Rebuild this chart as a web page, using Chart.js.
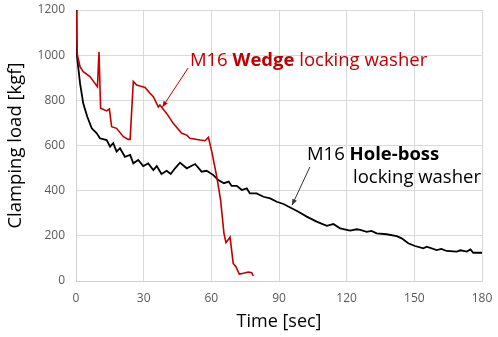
<!DOCTYPE html>
<html>
<head>
<meta charset="utf-8">
<script src="https://cdn.jsdelivr.net/npm/chart.js@4"></script>
<style>
  html, body { margin: 0; padding: 0; background: #fff; }
  #wrap { width: 498px; height: 337px; position: relative; }
</style>
</head>
<body>
<div id="wrap"><canvas id="c"></canvas></div>
<script>
// ── Data ──────────────────────────────────────────────────────────────────────

const wedgeTime = [0, 0.6, 1.8, 3.2, 6.2, 8.4, 9.5, 10.2, 10.9, 13.6, 14.8, 15.8, 18, 21, 23.2, 24,
  25.4, 26.9, 28.4, 30.6, 32.8, 34.3, 36.5, 37.2, 40.2, 43.1, 46.9, 49.1, 50.5, 55, 57.2, 58.7,
  60.2, 62.4, 64.1, 65.6, 66.5, 68.3, 69.7, 70.9, 72.4, 74.2, 76.4, 77.9, 78.6];
const wedgeLoad = [1200, 1001, 949, 927, 905, 875, 860, 1015, 765, 753, 762, 683, 676, 639, 627, 627,
  884, 868, 863, 857, 831, 816, 770, 779, 742, 698, 654, 646, 632, 624, 621, 636,
  573, 462, 359, 211, 170, 194, 78, 63, 31, 34, 40, 37, 22];

const holeTime = [0, 0.3, 1.8, 3.2, 5, 7, 9.2, 10.6, 13.6, 15.1, 16.5, 18, 19.5, 21.7, 24, 25.4, 27.6,
  29.8, 32, 34.3, 35.8, 37.9, 40.2, 42, 43.9, 46.1, 49.1, 52.8, 55.7, 57.9, 60.9, 63.1, 65.6, 67.7,
  69, 71.3, 73.5, 75.7, 77.1, 80.1, 83.1, 86.1, 89, 92, 95.6, 98.6, 102.3, 106.7, 111.2, 114.1,
  117.1, 121.5, 124.5, 126, 128.9, 131, 133.3, 137.7, 142.2, 144.4, 147.3, 150.3, 154, 155.5,
  159.9, 162, 164.3, 168.8, 170.5, 173.2, 174.9, 176.1, 180];
const holeLoad = [1200, 1008, 875, 787, 727, 676, 654, 632, 624, 595, 610, 573, 588, 550, 558, 521, 536,
  509, 521, 491, 509, 474, 488, 474, 499, 524, 499, 518, 484, 488, 469, 447, 433, 440,
  421, 421, 403, 410, 388, 388, 373, 366, 351, 341, 322, 307, 285, 263, 244, 252,
  233, 223, 229, 226, 218, 222, 211, 207, 199, 189, 167, 155, 145, 152,
  137, 142, 133, 130, 136, 130, 140, 125, 125];

const xTicks = [0, 30, 60, 90, 120, 150, 180];
const yTicks = [0, 200, 400, 600, 800, 1000, 1200];

const RED = '#c00000';
const FONT = "'Open Sans', 'Noto Sans', sans-serif";

// ── Annotation plugin (text + arrows in data coordinates) ─────────────────────

const notes = {
  wedge: { at: [50.5, 974], arrowFrom: [49.7, 943], arrowTo: [38.3, 770] },
  hole: { at: [102.4, 558], line2: [122.8, 456], arrowFrom: [103.7, 505], arrowTo: [95.8, 336] },
};

function arrow(ctx, x1, y1, x2, y2, color) {
  ctx.save();
  ctx.strokeStyle = color;
  ctx.fillStyle = color;
  ctx.lineWidth = 1;
  ctx.beginPath();
  ctx.moveTo(x1, y1);
  ctx.lineTo(x2, y2);
  ctx.stroke();
  const a = Math.atan2(y2 - y1, x2 - x1);
  const L = 6, W = 2.5;
  ctx.beginPath();
  ctx.moveTo(x2, y2);
  ctx.lineTo(x2 - L * Math.cos(a) + W * Math.sin(a), y2 - L * Math.sin(a) - W * Math.cos(a));
  ctx.lineTo(x2 - L * Math.cos(a) - W * Math.sin(a), y2 - L * Math.sin(a) + W * Math.cos(a));
  ctx.closePath();
  ctx.fill();
  ctx.restore();
}

function runs(ctx, parts, x, y) {
  parts.forEach(p => {
    ctx.font = (p.bold ? 'bold ' : '') + '18.5px ' + FONT;
    ctx.fillText(p.t, x, y);
    x += ctx.measureText(p.t).width;
  });
}

const notePlugin = {
  id: 'notes',
  afterDatasetsDraw(chart) {
    const { ctx, scales: { x, y } } = chart;
    const px = p => [x.getPixelForValue(p[0]), y.getPixelForValue(p[1])];
    ctx.save();
    ctx.textBaseline = 'middle';
    ctx.textAlign = 'left';

    // Wedge
    let w = notes.wedge;
    ctx.fillStyle = RED;
    runs(ctx, [{ t: 'M16 ' }, { t: 'Wedge', bold: true }, { t: ' locking washer' }], ...px(w.at));
    arrow(ctx, ...px(w.arrowFrom), ...px(w.arrowTo), RED);

    // Hole-boss
    let h = notes.hole;
    ctx.fillStyle = '#000';
    runs(ctx, [{ t: 'M16 ' }, { t: 'Hole-boss', bold: true }], ...px(h.at));
    runs(ctx, [{ t: 'locking washer' }], ...px(h.line2));
    arrow(ctx, ...px(h.arrowFrom), ...px(h.arrowTo), '#333');
    ctx.restore();
  },
};

// ── Chart ─────────────────────────────────────────────────────────────────────

const pts = (xs, ys) => xs.map((t, i) => ({ x: t, y: ys[i] }));

new Chart(document.getElementById('c'), {
  type: 'line',
  data: {
    datasets: [
      {
        label: 'M16 Wedge locking washer',
        data: pts(wedgeTime, wedgeLoad),
        borderColor: RED,
        borderWidth: 1.6,
        pointRadius: 0,
        tension: 0,
      },
      {
        label: 'M16 Hole-boss locking washer',
        data: pts(holeTime, holeLoad),
        borderColor: '#000',
        borderWidth: 1.8,
        pointRadius: 0,
        tension: 0,
      },
    ],
  },
  options: {
    responsive: true,
    maintainAspectRatio: false,
    animation: false,
    layout: { padding: { left: 0, right: 16, top: 10, bottom: 0 } },
    plugins: { legend: { display: false }, tooltip: { enabled: false } },
    scales: {
      x: {
        type: 'linear',
        min: 0, max: 180,
        afterBuildTicks: s => { s.ticks = xTicks.map(v => ({ value: v })); },
        afterFit: s => { s.height = 56; s.paddingLeft = 0; s.paddingRight = 0; },
        grid: { color: '#d9d9d9', drawTicks: false },
        border: { color: '#d0d0d0' },
        ticks: { color: '#595959', font: { family: FONT, size: 12 }, padding: 10, callback: v => String(v) },
        title: { display: true, text: 'Time [sec]', color: '#000', font: { family: FONT, size: 18 }, padding: { top: 2 } },
      },
      y: {
        min: 0, max: 1200,
        afterBuildTicks: s => { s.ticks = yTicks.map(v => ({ value: v })); },
        afterFit: s => { s.width = 76; s.paddingTop = 0; s.paddingBottom = 0; },
        grid: { color: '#d9d9d9', drawTicks: false },
        border: { color: '#d0d0d0' },
        ticks: { color: '#595959', font: { family: FONT, size: 12 }, padding: 11, callback: v => String(v) },
        title: { display: true, text: 'Clamping load [kgf]', color: '#000', font: { family: FONT, size: 18.5 }, padding: { top: 5, bottom: 2 } },
      },
    },
  },
  plugins: [notePlugin],
});
</script>
</body>
</html>
